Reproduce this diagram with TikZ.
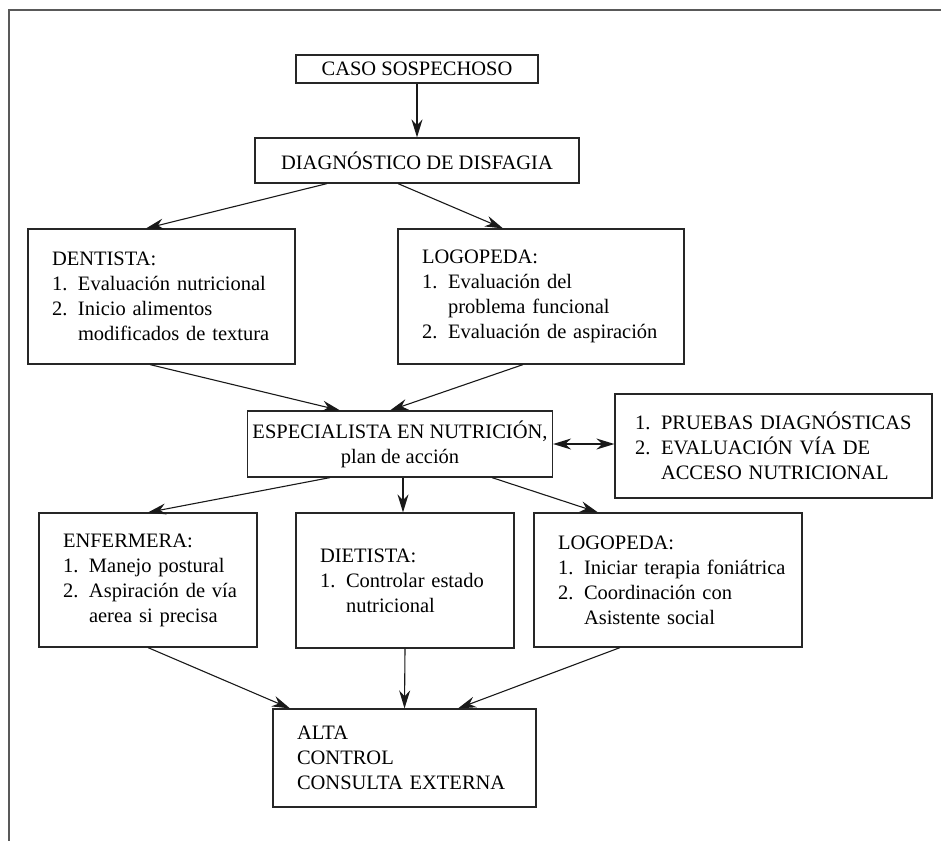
\documentclass[tikz,border=0pt]{standalone}
\usepackage{fontspec}
\setmainfont{Liberation Serif}
\usepackage{tikz}
\usetikzlibrary{calc,arrows.meta}
\newcommand*{\NumItem}[2]{\makebox[26pt][l]{#1.}\mbox{#2}}
\newcommand*{\NumCont}[1]{\hspace*{26pt}\mbox{#1}}
\tikzset{
  caja/.style={draw=black!85, line width=1.2pt, inner xsep=24pt, inner ysep=0pt, align=left},
  cajac/.style={caja, inner xsep=0pt, align=center},
  punta/.tip={Stealth[length=18pt,width=11pt]},
  flecha/.style={-punta, line width=1.1pt, black!90},
}

\begin{document}
\begin{tikzpicture}[x=1pt,y=-1pt,font=\fontsize{20.5}{25}\selectfont]
\useasboundingbox (0,0) rectangle (941,841);
% marco
\draw[black!65, line width=2pt] (8,10) -- (941,10);
\draw[black!65, line width=2pt] (9,10) -- (9,841);

% cajas
\node[cajac, minimum width=242pt, minimum height=28pt] (caso) at (417,69) {CASO SOSPECHOSO};
\node[cajac, minimum width=324pt, minimum height=45pt] (diag) at (417,160.5) {DIAGNÓSTICO DE DISFAGIA};
\node[caja, text width=219pt, minimum height=135pt] (dent) at (161.5,296.5)
  {DENTISTA:\\ \NumItem{1}{Evaluación nutricional}\\ \NumItem{2}{Inicio alimentos}\\ \NumCont{modificados de textura}};
\node[caja, text width=238pt, minimum height=135pt] (logo) at (541,296.5)
  {LOGOPEDA:\\ \NumItem{1}{Evaluación del}\\ \NumCont{problema funcional}\\ \NumItem{2}{Evaluación de aspiración}};
\node[cajac, minimum width=305pt, minimum height=66pt] (esp) at (400,444)
  {ESPECIALISTA EN NUTRICIÓN,\\ plan de acción};
\node[caja, inner xsep=20pt, text width=277pt, minimum height=104pt] (prue) at (773.5,446)
  {\NumItem{1}{PRUEBAS DIAGNÓSTICAS}\\ \NumItem{2}{EVALUACIÓN VÍA DE}\\ \NumCont{ACCESO NUTRICIONAL}};
\node[caja, text width=170pt, minimum height=134pt] (enf) at (148,580)
  {ENFERMERA:\\ \NumItem{1}{Manejo postural}\\ \NumItem{2}{Aspiración de vía}\\ \NumCont{aerea si precisa}};
\node[caja, text width=170pt, minimum height=135pt] (diet) at (405,580.5)
  {DIETISTA:\\ \NumItem{1}{Controlar estado}\\ \NumCont{nutricional}};
\node[caja, text width=220pt, minimum height=134pt] (logob) at (668,580)
  {LOGOPEDA:\\ \NumItem{1}{Iniciar terapia foniátrica}\\ \NumItem{2}{Coordinación con}\\ \NumCont{Asistente social}};
\node[caja, text width=215pt, minimum height=98pt] (alta) at (404.5,758)
  {ALTA\\ CONTROL\\ \mbox{CONSULTA EXTERNA}};

% flechas
\draw[flecha] (caso) -- (diag);
\draw[flecha] ([xshift=-90pt]diag.south) -- ([xshift=-15.5pt]dent.north);
\draw[flecha] ([xshift=-19pt]diag.south) -- ([xshift=-38pt]logo.north);
\draw[flecha] ([xshift=-11.5pt]dent.south) -- ([xshift=-60pt]esp.north);
\draw[flecha] ([xshift=-18pt]logo.south) -- ([xshift=-10pt]esp.north);
\draw[flecha, punta-punta] (esp.east) -- (esp.east -| prue.west);
\draw[flecha] ([xshift=-70pt]esp.south) -- (enf.north);
\draw[flecha] ([xshift=3pt]esp.south) -- ([xshift=3pt]esp.south |- diet.north);
\draw[flecha] ([xshift=92pt]esp.south) -- ([xshift=-70pt]logob.north);
\draw[flecha] (enf.south) -- ([xshift=-114.5pt]alta.north);
\draw[flecha] (diet.south) -- (alta.north);
\draw[flecha] ([xshift=-48pt]logob.south) -- ([xshift=53.5pt]alta.north);
\end{tikzpicture}
\end{document}
